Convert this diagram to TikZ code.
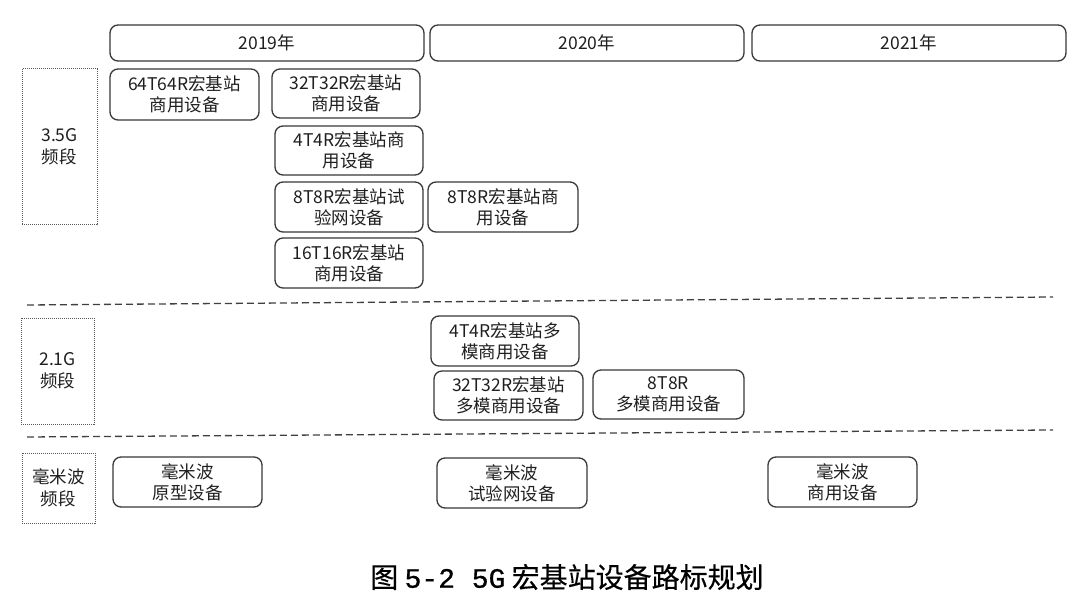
\documentclass[tikz,border=0pt]{standalone}
\usepackage{fontspec}
\setmainfont{Noto Sans CJK SC}
\newfontfamily\capfont[FakeBold=0.4]{Noto Sans CJK SC}
\newfontfamily\capmono[FakeBold=0.8]{Liberation Mono}
\begin{document}
\begin{tikzpicture}[x=1pt,y=-1pt,
  box/.style={draw=black!78, line width=1.3pt, rounded corners=8pt, align=center, inner sep=0pt,
    font=\fontsize{17.5}{21}\selectfont, text=black!88},
  yearbox/.style={box, minimum height=36pt},
  band/.style={draw=black!65, densely dotted, line width=1pt, align=center, inner sep=0pt,
    font=\fontsize{17.5}{22}\selectfont, text=black!88},
  sep/.style={draw=black!75, line width=1.3pt, dash pattern=on 7pt off 4pt}]
\useasboundingbox (0,0) rectangle (1080,607);

% year headers
\node[yearbox, minimum width=314pt] (y19) at (267,43) {2019年};
\node[yearbox, minimum width=314pt] (y20) at (587,43) {2020年};
\node[yearbox, minimum width=314pt] (y21) at (909,43) {2021年};

% band labels
\node[band, minimum width=75pt, minimum height=156pt] (b35) at (59.5,147) {3.5G\\频段};
\node[band, minimum width=73pt, minimum height=106pt] (b21) at (57.5,371) {2.1G\\频段};
\node[band, minimum width=73pt, minimum height=70pt] (bmm) at (58.5,488) {毫米波\\频段};

% 3.5G boxes
\node[box, minimum width=149pt, minimum height=51pt] (a1) at (184.5,94.5) {64T64R宏基站\\商用设备};
\node[box, minimum width=148pt, minimum height=49pt] (a2) at (346,93.5) {32T32R宏基站\\商用设备};
\node[box, minimum width=148pt, minimum height=49pt] (a3) at (349,150.5) {4T4R宏基站商\\用设备};
\node[box, minimum width=148pt, minimum height=50pt] (a4) at (349,207) {8T8R宏基站试\\验网设备};
\node[box, minimum width=148pt, minimum height=50pt] (a5) at (349,263) {16T16R宏基站\\商用设备};
\node[box, minimum width=150pt, minimum height=50pt] (a6) at (503,207) {8T8R宏基站商\\用设备};

% separator 1
\coordinate (s1l) at (27,305);
\coordinate (s1r) at (1053,297);
\draw[sep] (s1l) -- (s1r);

% 2.1G boxes
\node[box, minimum width=148pt, minimum height=50pt] (c1) at (505,341) {4T4R宏基站多\\模商用设备};
\node[box, minimum width=149pt, minimum height=49pt] (c2) at (508.5,395.5) {32T32R宏基站\\多模商用设备};
\node[box, minimum width=151pt, minimum height=49pt] (c3) at (668.5,394.5) {8T8R\\多模商用设备};

% separator 2
\coordinate (s2l) at (27,437);
\coordinate (s2r) at (1053,430);
\draw[sep] (s2l) -- (s2r);

% mmWave boxes
\node[box, minimum width=149pt, minimum height=50pt] (d1) at (187.5,482) {毫米波\\原型设备};
\node[box, minimum width=150pt, minimum height=50pt] (d2) at (512,483) {毫米波\\试验网设备};
\node[box, minimum width=149pt, minimum height=50pt] (d3) at (842.5,482) {毫米波\\商用设备};

% caption
\node[font=\fontsize{28}{30}\selectfont, text=black] (cap) at (567,577) {\capfont 图 {\capmono 5-2 5G} 宏基站设备路标规划};
\end{tikzpicture}
\end{document}
